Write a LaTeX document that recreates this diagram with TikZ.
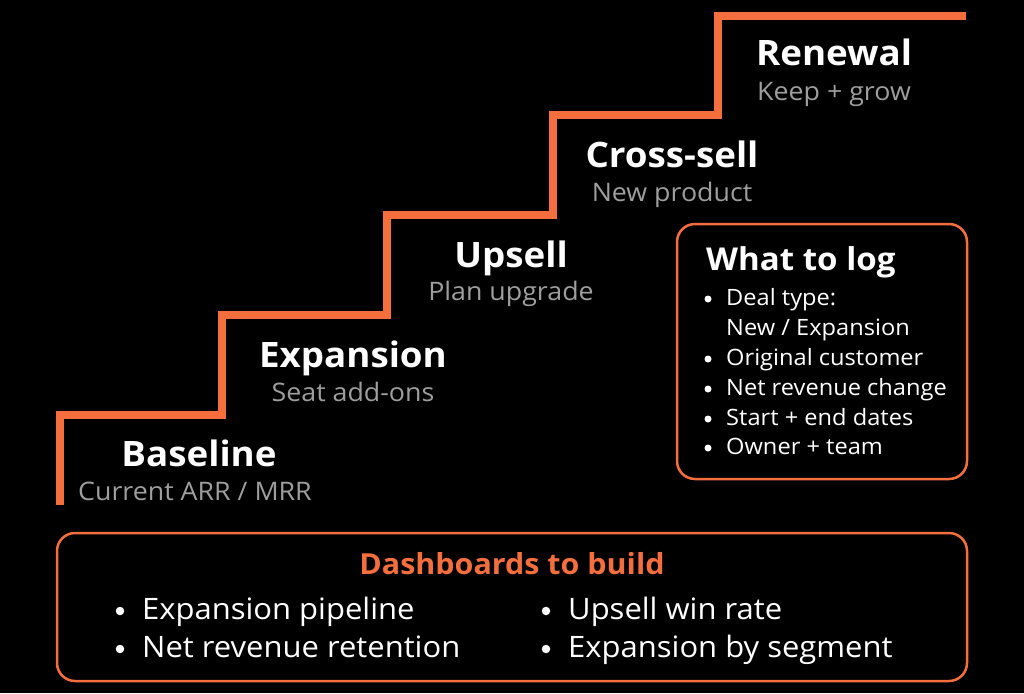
\documentclass[tikz,border=0pt]{standalone}
\usepackage{fontspec}
\setmainfont{Open Sans}[FakeStretch=1.05]
\definecolor{orng}{RGB}{244,110,62}
\definecolor{subgray}{RGB}{158,158,158}
\begin{document}
\begin{tikzpicture}[x=1pt,y=-1pt,
  stair/.style={draw=orng,line width=8pt,miter limit=10},
  ttl/.style={text=white,font=\fontsize{35}{40}\selectfont\bfseries,inner sep=0pt,anchor=base},
  sub/.style={text=subgray,font=\fontsize{25.5}{30}\selectfont,inner sep=0pt,anchor=base},
  frame/.style={draw=orng,line width=2.5pt,rounded corners=18pt},
  logitem/.style={text=white,font=\fontsize{22.5}{26}\selectfont,inner sep=0pt,anchor=base west},
  dashitem/.style={text=white,font=\fontsize{29.5}{34}\selectfont,inner sep=0pt,anchor=base west},
  dot/.style={circle,fill=white,inner sep=0pt,minimum size=#1}]
\fill[black] (0,0) rectangle (1024,693);
\useasboundingbox (0,0) rectangle (1024,693);
% staircase
\draw[stair] (60,505) -- (60,415) -- (222,415) -- (222,315) -- (387,315) -- (387,215) -- (553,215) -- (553,115) -- (718,115) -- (718,16) -- (966,16);
% step labels
\node[ttl] (t1) at (199,466) {Baseline};
\node[sub] (s1) at (195,500) {Current ARR / MRR};
\node[ttl] (t2) at (353,367) {Expansion};
\node[sub] (s2) at (353,401) {Seat add-ons};
\node[ttl] (t3) at (511,267) {Upsell};
\node[sub] (s3) at (511,300) {Plan upgrade};
\node[ttl] (t4) at (672,167) {Cross-sell};
\node[sub] (s4) at (672,201) {New product};
\node[ttl] (t5) at (834,66) {Renewal};
\node[sub] (s5) at (834,100) {Keep + grow};
% what to log box
\draw[frame] (677,224) rectangle (967,479);
\node[text=white,font=\fontsize{31.5}{36}\selectfont\bfseries,inner sep=0pt,anchor=base west] (lt) at (706,270) {What to log};
\node[dot=7pt] (lb1) at (708,299) {};
\node[logitem] (l1) at (726,305) {Deal type:};
\node[logitem] (l1b) at (726,335) {New / Expansion};
\node[dot=7pt] (lb2) at (708,359) {};
\node[logitem] (l2) at (726,365) {Original customer};
\node[dot=7pt] (lb3) at (708,389) {};
\node[logitem] (l3) at (726,395) {Net revenue change};
\node[dot=7pt] (lb4) at (708,419) {};
\node[logitem] (l4) at (726,425) {Start + end dates};
\node[dot=7pt] (lb5) at (708,448) {};
\node[logitem] (l5) at (726,454) {Owner + team};
% dashboards box
\draw[frame] (57,533) rectangle (967,681);
\node[text=orng,font=\fontsize{29}{34}\selectfont\bfseries,inner sep=0pt,anchor=base] (dt) at (512,574) {Dashboards to build};
\node[dot=8.5pt] (db1) at (120,611) {};
\node[dashitem] (d1) at (142,619) {Expansion pipeline};
\node[dot=8.5pt] (db2) at (120,649) {};
\node[dashitem] (d2) at (142,657) {Net revenue retention};
\node[dot=8.5pt] (db3) at (546,611) {};
\node[dashitem] (d3) at (568,619) {Upsell win rate};
\node[dot=8.5pt] (db4) at (546,649) {};
\node[dashitem] (d4) at (568,657) {Expansion by segment};
\end{tikzpicture}
\end{document}
